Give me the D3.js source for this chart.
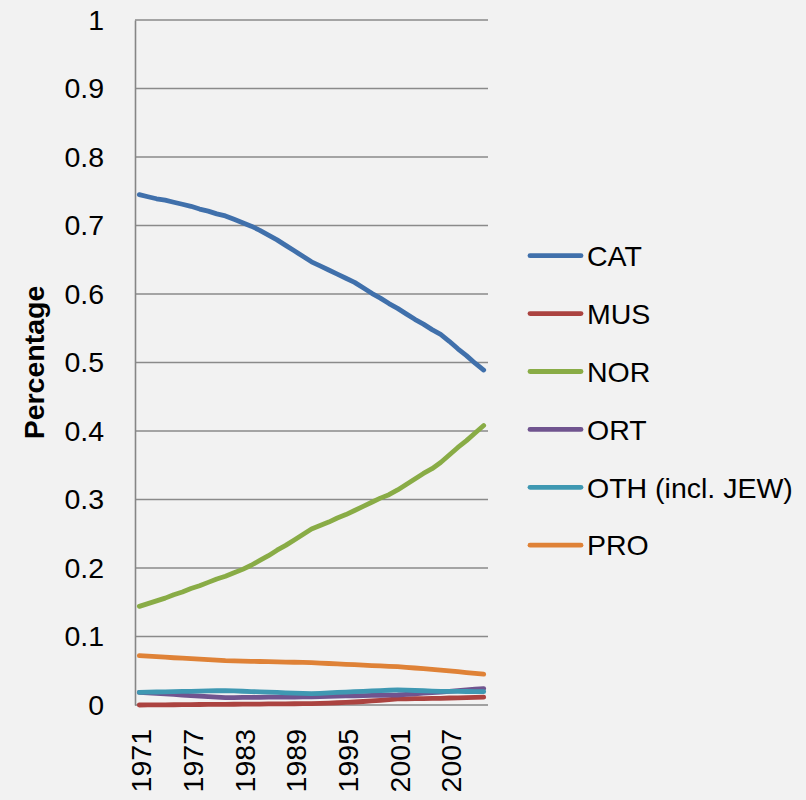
<!DOCTYPE html>
<html>
<head>
<meta charset="utf-8">
<script src="https://cdn.jsdelivr.net/npm/d3@7"></script>
<style>
  html, body { margin: 0; padding: 0; background: #f2f2f2; }
  svg { display: block; }
  text { font-family: "Liberation Sans", Arial, sans-serif; fill: #000; }
</style>
</head>
<body>
<svg id="chart" width="806" height="800"></svg>
<script>
// ---- Data ----
const years = d3.range(1971, 2012).map(String);
const xTickLabels = ["1971", "1977", "1983", "1989", "1995", "2001", "2007"];
const yTickValues = [0, 0.1, 0.2, 0.3, 0.4, 0.5, 0.6, 0.7, 0.8, 0.9, 1];
const seriesNames = ["CAT", "MUS", "NOR", "ORT", "OTH (incl. JEW)", "PRO"];
const seriesColors = ["#4070AB", "#AB4340", "#89AC46", "#70548F", "#3F98B2", "#DF8237"];

const CAT = [0.745, 0.742, 0.739, 0.737, 0.734, 0.731, 0.728, 0.724, 0.721, 0.717,
             0.714, 0.709, 0.704, 0.699, 0.693, 0.686, 0.679, 0.671, 0.663, 0.655,
             0.647, 0.641, 0.635, 0.629, 0.623, 0.617, 0.609, 0.601, 0.594, 0.586,
             0.579, 0.571, 0.563, 0.556, 0.548, 0.541, 0.531, 0.520, 0.510, 0.499, 0.489];
const MUS = [0.0000, 0.0001, 0.0002, 0.0003, 0.0004, 0.0005, 0.0006, 0.0007, 0.0008, 0.0009,
             0.0010, 0.0011, 0.0012, 0.0013, 0.0014, 0.0015, 0.0016, 0.0017, 0.0018, 0.0019,
             0.0020, 0.0024, 0.0028, 0.0033, 0.0038, 0.0044, 0.0051, 0.0059, 0.0068, 0.0078,
             0.0088, 0.0090, 0.0092, 0.0094, 0.0096, 0.0098, 0.0102, 0.0105, 0.0108, 0.0111, 0.0115];
const NOR = [0.144, 0.148, 0.152, 0.156, 0.161, 0.165, 0.170, 0.174, 0.179, 0.184,
             0.188, 0.193, 0.198, 0.204, 0.211, 0.218, 0.226, 0.233, 0.241, 0.249,
             0.257, 0.262, 0.267, 0.273, 0.278, 0.284, 0.290, 0.296, 0.302, 0.307,
             0.314, 0.322, 0.330, 0.338, 0.345, 0.354, 0.365, 0.376, 0.386, 0.397, 0.408];
const ORT = [0.0185, 0.0177, 0.0169, 0.0161, 0.0154, 0.0146, 0.0138, 0.0130, 0.0122, 0.0115,
             0.0107, 0.0108, 0.0110, 0.0111, 0.0112, 0.0114, 0.0115, 0.0116, 0.0117, 0.0119,
             0.0120, 0.0123, 0.0126, 0.0129, 0.0132, 0.0135, 0.0138, 0.0140, 0.0142, 0.0144,
             0.0146, 0.0155, 0.0164, 0.0172, 0.0181, 0.0190, 0.0200, 0.0210, 0.0220, 0.0230, 0.0240];
const OTH = [0.0185, 0.0188, 0.0190, 0.0193, 0.0195, 0.0198, 0.0200, 0.0203, 0.0205, 0.0208,
             0.0210, 0.0205, 0.0201, 0.0196, 0.0192, 0.0187, 0.0183, 0.0178, 0.0174, 0.0169,
             0.0165, 0.0171, 0.0177, 0.0183, 0.0189, 0.0195, 0.0200, 0.0205, 0.0210, 0.0215,
             0.0220, 0.0216, 0.0212, 0.0208, 0.0204, 0.0200, 0.0199, 0.0198, 0.0197, 0.0196, 0.0195];
const PRO = [0.0720, 0.0713, 0.0705, 0.0698, 0.0690, 0.0683, 0.0676, 0.0669, 0.0662, 0.0655,
             0.0647, 0.0644, 0.0641, 0.0638, 0.0635, 0.0632, 0.0630, 0.0627, 0.0624, 0.0621,
             0.0618, 0.0612, 0.0606, 0.0600, 0.0594, 0.0588, 0.0582, 0.0576, 0.0570, 0.0565,
             0.0560, 0.0550, 0.0540, 0.0530, 0.0520, 0.0510, 0.0498, 0.0486, 0.0474, 0.0462, 0.0450];

const seriesValues = [CAT, MUS, NOR, ORT, OTH, PRO];

// ---- Layout ----
const plot = { left: 135, right: 488, top: 20, bottom: 705 };
const fontSize = 28.5;

const svg = d3.select("#chart");
svg.append("rect").attr("width", 806).attr("height", 800).attr("fill", "#f2f2f2");

const x = d3.scalePoint().domain(years).range([plot.left, plot.right]).padding(0.5);
const y = d3.scaleLinear().domain([0, 1]).range([plot.bottom, plot.top]);

// gridlines
svg.append("g").selectAll("line")
  .data(yTickValues.filter(v => v > 0))
  .join("line")
  .attr("x1", plot.left).attr("x2", plot.right)
  .attr("y1", d => y(d)).attr("y2", d => y(d))
  .attr("stroke", "#8a8a8a").attr("stroke-width", 1.4);

// y axis
const yAxis = svg.append("g")
  .attr("transform", `translate(${plot.left},0)`)
  .call(d3.axisLeft(y).tickValues(yTickValues).tickSize(0).tickPadding(31)
    .tickFormat(d => String(+d.toFixed(1))));
yAxis.select(".domain").attr("stroke", "#868686").attr("stroke-width", 1.6);
yAxis.selectAll("text").attr("font-size", fontSize)
  .attr("font-family", '"Liberation Sans", Arial, sans-serif').attr("fill", "#000");

// x axis
const xAxis = svg.append("g")
  .attr("transform", `translate(0,${plot.bottom})`)
  .call(d3.axisBottom(x).tickValues(xTickLabels).tickSize(0));
xAxis.select(".domain").attr("stroke", "#868686").attr("stroke-width", 1.6)
  .attr("d", `M${plot.left},0H${plot.right}`);
xAxis.selectAll("text")
  .attr("font-size", fontSize)
  .attr("font-family", '"Liberation Sans", Arial, sans-serif').attr("fill", "#000")
  .attr("transform", "rotate(-90)")
  .attr("text-anchor", "end")
  .attr("x", -24)
  .attr("y", 0)
  .attr("dy", "0.4em");

// y axis title
svg.append("text")
  .attr("transform", `translate(44,${(plot.top + plot.bottom) / 2}) rotate(-90)`)
  .attr("text-anchor", "middle")
  .attr("font-size", fontSize)
  .attr("font-weight", "bold")
  .text("Percentage");

// lines
const line = d3.line().x((d, i) => x(years[i])).y(d => y(d));
svg.append("g").selectAll("path")
  .data(seriesValues)
  .join("path")
  .attr("d", d => line(d))
  .attr("fill", "none")
  .attr("stroke", (d, i) => seriesColors[i])
  .attr("stroke-width", 4.8)
  .attr("stroke-linecap", "round")
  .attr("stroke-linejoin", "round");

// legend
const legend = svg.append("g");
const legY0 = 255.7, legStep = 57.9;
const items = legend.selectAll("g").data(seriesNames).join("g")
  .attr("transform", (d, i) => `translate(0,${legY0 + i * legStep})`);
items.append("line")
  .attr("x1", 530).attr("x2", 581).attr("y1", 0).attr("y2", 0)
  .attr("stroke", (d, i) => seriesColors[i])
  .attr("stroke-width", 4.8).attr("stroke-linecap", "round");
items.append("text")
  .attr("x", 587).attr("y", 0).attr("dy", "0.36em")
  .attr("font-size", fontSize)
  .text(d => d);
</script>
</body>
</html>
